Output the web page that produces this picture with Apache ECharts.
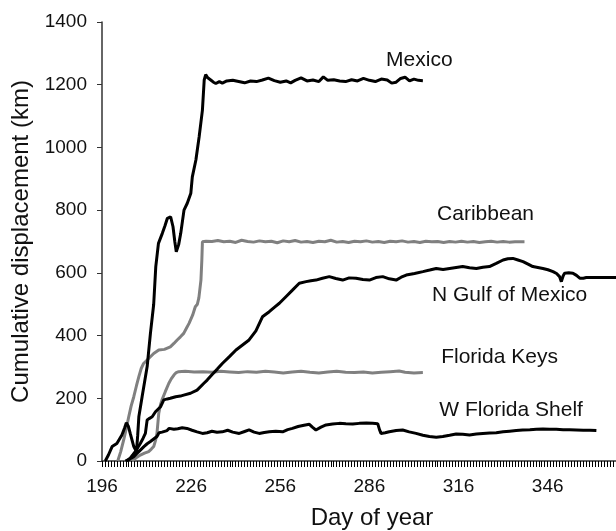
<!DOCTYPE html>
<html>
<head>
<meta charset="utf-8">
<script src="https://cdn.jsdelivr.net/npm/echarts@6/dist/echarts.min.js"></script>
<style>
html,body{margin:0;padding:0;background:#fff;}
#chart{width:616px;height:531px;}
</style>
</head>
<body>
<div id="chart"></div>
<script>
// ---- data ----
var seriesNames = ['Mexico', 'Caribbean', 'N Gulf of Mexico', 'Florida Keys', 'W Florida Shelf'];
var xTickLabels = ['196', '226', '256', '286', '316', '346'];
var yTickLabels = ['0', '200', '400', '600', '800', '1000', '1200', '1400'];

var mexico = [[197.1,0],[198.2,20],[199.4,46],[201,56],[202.7,83],[203.6,105],[204.2,122],[204.9,110],[205.5,88],[206.7,46],[207.6,30],[208.0,80],[208.4,141],[209.5,205],[211.2,301],[212.3,407],[213.4,500],[214.1,620],[215,694],[216.3,726],[217.2,750],[218,774],[219.1,779],[219.9,747],[220.5,700],[221,667],[221.8,690],[222.5,726],[223.6,800],[224.7,822],[225.9,854],[226.4,906],[227.6,960],[228.7,1034],[229.8,1119],[230.4,1215],[230.9,1232],[231.6,1222],[232.6,1215],[233.5,1208],[234.3,1204],[235.5,1210],[236.5,1205],[238,1212],[240,1214],[242,1210],[244,1206],[246,1212],[248,1210],[250,1215],[252,1221],[254,1213],[256,1208],[258,1212],[259.5,1206],[261,1214],[263,1222],[265,1212],[267,1215],[269,1210],[270.5,1225],[272,1214],[274,1216],[276,1212],[278,1210],[280,1216],[282,1212],[284,1220],[286,1214],[288,1210],[290,1218],[292,1215],[293.5,1205],[295,1208],[296.5,1220],[298,1224],[299.5,1212],[301,1218],[302.5,1214],[304,1213]];

var caribbean = [[201.3,0],[202.3,30],[203.3,67],[204.2,105],[205,141],[205.8,175],[206.7,205],[207.6,240],[208.4,269],[209.2,295],[210,311],[211.7,327],[213.4,343],[215.1,354],[217,356],[219,364],[220.2,375],[221.3,386],[222.4,396],[223.5,407],[224.5,425],[225.3,439],[226.5,465],[227.4,492],[228.1,500],[228.6,520],[229.3,577],[229.6,640],[229.8,699],[231,701],[233,700],[235,703],[237,699],[239,701],[241,697],[243,704],[245,700],[247,698],[249,702],[251,699],[253,701],[255,696],[257,702],[259,699],[261,703],[263,698],[265,700],[267,697],[269,701],[271,699],[273,704],[275,698],[277,700],[279,697],[281,701],[283,699],[285,702],[287,698],[289,700],[291,697],[293,701],[295,699],[297,702],[299,698],[301,700],[303,697],[305,701],[307,699],[309,700],[311,697],[313,700],[315,698],[317,701],[319,698],[321,700],[323,697],[325,699],[327,701],[329,698],[331,700],[333,698],[335,699],[338.2,699]];

var nGulf = [[203.9,0],[204.7,4],[205.5,9],[206.4,20],[207.2,30],[208,42],[208.9,56],[209.8,72],[210.6,88],[211.2,131],[212,136],[212.9,141],[214,157],[215.7,173],[216.8,195],[218,198],[219,200],[220.8,205],[222.4,207],[223.5,210],[225.8,216],[228,226],[230.3,248],[231.4,258],[233,275],[234.8,293],[236.5,311],[238.8,332],[241.1,354],[243.3,370],[245.5,386],[247.8,415],[250,460],[252.3,476],[254,490],[255.7,503],[257.9,524],[260.1,545],[262.4,567],[264.7,572],[266.3,575],[268,577],[270.2,583],[272.5,588],[274.7,582],[277,577],[279.2,584],[281.5,583],[283.8,579],[286,577],[288.2,585],[290.5,588],[292.7,581],[295,577],[296.7,586],[298.4,593],[301.2,598],[304,604],[306.3,609],[308.5,614],[310.8,611],[313,614],[315.2,617],[317.4,620],[319.7,616],[322,614],[324.2,618],[326.4,620],[328.7,630],[331,641],[332.6,645],[334.3,646],[336,641],[337.7,636],[339.4,628],[341,620],[342.7,617],[344.4,614],[346.1,610],[347.8,604],[349,598],[350,588],[350.6,572],[351.2,590],[351.7,599],[353.1,600],[354.5,599],[355.7,592],[356.8,583],[358,583],[359,585],[362,585],[366,585],[369,585]];

var floridaKeys = [[206.1,0],[207.5,10],[208.9,19],[210.3,25],[211.7,30],[212.6,38],[213.4,46],[214,65],[214.5,88],[214.8,120],[215.1,152],[215.7,180],[216.2,195],[217.3,221],[218.5,248],[219.3,262],[220.2,274],[221,282],[221.8,285],[224,286],[227,284],[230,285],[233,283],[236,286],[239,284],[242,282],[245,285],[248,283],[251,286],[254,284],[257,281],[260,284],[263,286],[266,283],[269,281],[272,284],[275,286],[278,283],[281,282],[284,284],[287,281],[290,283],[293,285],[296,287],[298,283],[301,281],[304,282]];

var wFloridaShelf = [[204.4,0],[205.5,7],[206.7,14],[207.5,22],[208.4,30],[210.1,46],[211.2,55],[212.3,62],[213.4,70],[214.5,78],[215.2,90],[216.2,92],[217.9,97],[218.6,104],[220.2,101],[221.5,103],[223,106],[224.6,104],[226.3,98],[228,93],[229.8,88],[231.4,90],[233,95],[234.7,92],[236.5,93],[238.3,98],[240,92],[242.2,88],[244,94],[245.5,99],[247.2,92],[248.9,88],[250.6,91],[252.3,93],[254.5,95],[256.8,93],[258.5,100],[260.1,104],[262,110],[264,114],[265.8,117],[266.8,108],[268,99],[269.7,108],[271.4,115],[273.6,118],[275.9,120],[278.1,119],[280.4,118],[282.6,120],[285,121],[287.1,120],[288.8,119],[289.4,100],[289.9,88],[291.3,90],[292.7,93],[295,97],[297.2,99],[299.4,93],[301.7,88],[304,82],[306.2,78],[308.5,76],[310.7,78],[313,82],[315.2,86],[317.4,85],[319.7,83],[322,86],[324.2,88],[326.5,89],[328.7,90],[331,93],[333.2,95],[335.4,97],[337.6,99],[340,100],[342.2,101],[344.4,102],[346.7,101],[348.9,101],[351.2,100],[353.4,100],[355.7,99],[358,98],[360.2,98],[362.4,97]];

// ---- chart ----
var FONT = '"Liberation Sans", Arial, Helvetica, sans-serif';
var chart = echarts.init(document.getElementById('chart'), null, {renderer: 'canvas'});

function lineSeries(name, data, color, labelCoord) {
  return {
    name: name,
    type: 'line',
    data: data,
    showSymbol: false,
    symbol: 'none',
    smooth: false,
    lineStyle: {color: color, width: 3},
    itemStyle: {color: color},
    animation: false,
    silent: true,
    markPoint: {
      symbol: 'rect',
      symbolSize: 1,
      itemStyle: {color: 'rgba(0,0,0,0)'},
      label: {
        show: true, position: 'inside', formatter: name,
        color: '#111', fontSize: 21, fontFamily: FONT
      },
      data: [{coord: labelCoord}]
    }
  };
}

chart.setOption({
  backgroundColor: '#ffffff',
  animation: false,
  grid: {left: 102, right: 0, top: 22, bottom: 70, containLabel: false, outerBoundsMode: 'none'},
  xAxis: {
    type: 'value',
    min: 196, max: 369, interval: 1,
    name: 'Day of year',
    nameLocation: 'middle',
    nameGap: 45,
    nameTextStyle: {color: '#111', fontSize: 24, fontFamily: FONT, padding: [0, 0, 0, 26]},
    axisLine: {show: true, onZero: false, lineStyle: {color: '#333', width: 1.5}},
    axisTick: {show: true, inside: false, interval: 0, length: 6, lineStyle: {color: '#000', width: 1}},
    splitLine: {show: false},
    axisLabel: {
      color: '#111', fontSize: 19, fontFamily: FONT, margin: 16,
      showMaxLabel: false, showMinLabel: true, hideOverlap: false,
      formatter: function (v) { var s = String(v); return xTickLabels.indexOf(s) >= 0 ? s : ''; }
    }
  },
  yAxis: {
    type: 'value',
    min: 0, max: 1400, interval: 200,
    name: 'Cumulative displacement (km)',
    nameLocation: 'middle',
    nameGap: 64,
    nameTextStyle: {color: '#111', fontSize: 24, fontFamily: FONT},
    axisLine: {show: true, onZero: false, lineStyle: {color: '#333', width: 1.5}},
    axisTick: {show: true, inside: false, length: 5, lineStyle: {color: '#333', width: 1}},
    splitLine: {show: false},
    axisLabel: {
      color: '#111', fontSize: 19, fontFamily: FONT, margin: 15,
      formatter: function (v) { var s = String(v); return yTickLabels.indexOf(s) >= 0 ? s : ''; }
    }
  },
  series: [
    lineSeries(seriesNames[3], floridaKeys, '#808080', [329.8, 331]),
    lineSeries(seriesNames[1], caribbean, '#808080', [325.1, 788]),
    lineSeries(seriesNames[4], wFloridaShelf, '#000000', [333.7, 163]),
    lineSeries(seriesNames[2], nGulf, '#000000', [333.2, 529]),
    lineSeries(seriesNames[0], mexico, '#000000', [302.8, 1279])
  ]
});
</script>
</body>
</html>
